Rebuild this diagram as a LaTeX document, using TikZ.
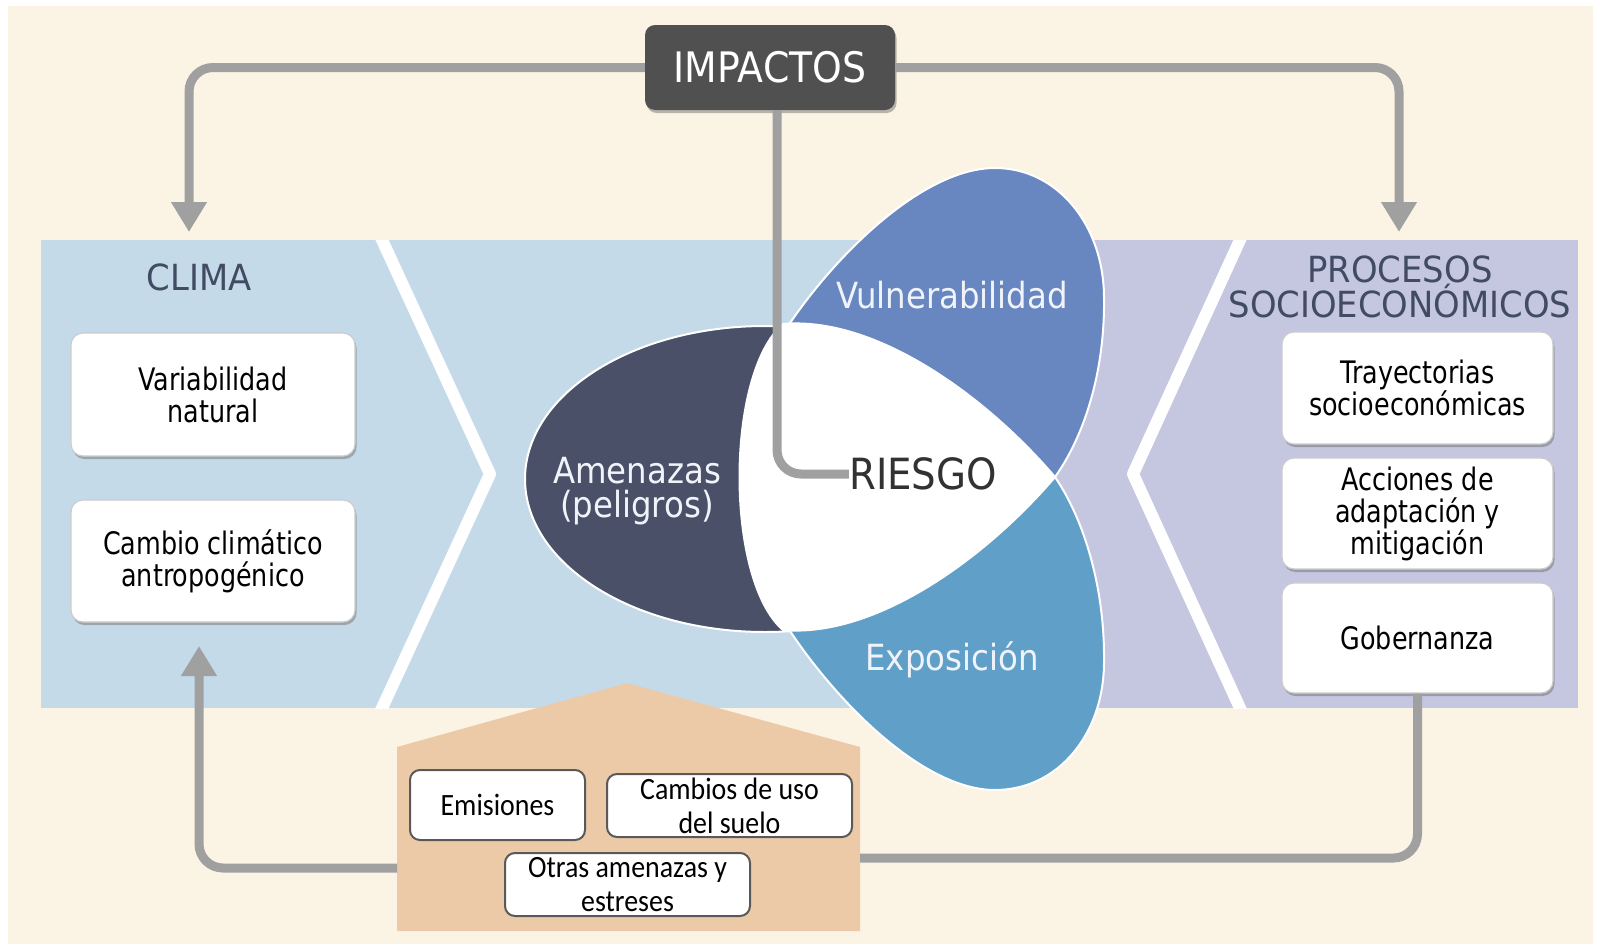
\documentclass[tikz,border=0pt]{standalone}
\usepackage{fontspec}
\newfontfamily\hfont[FakeStretch=0.9]{DejaVu Sans}
\newfontfamily\tfont[FakeStretch=0.94]{DejaVu Sans}
\newfontfamily\bfont[FakeStretch=0.82]{DejaVu Sans}
\newfontfamily\cfont[FakeStretch=0.9]{Carlito}
\usetikzlibrary{arrows.meta,shadows}
\definecolor{cream}{RGB}{251,244,228}
\definecolor{bandblue}{RGB}{197,218,233}
\definecolor{bandlav}{RGB}{197,199,225}
\definecolor{housec}{RGB}{236,202,168}
\definecolor{connG}{RGB}{160,160,160}
\definecolor{impG}{RGB}{80,80,80}
\definecolor{amenC}{RGB}{74,80,104}
\definecolor{vulnC}{RGB}{104,135,192}
\definecolor{expoC}{RGB}{96,160,200}
\definecolor{titleC}{RGB}{65,75,100}
\definecolor{petalT}{RGB}{240,244,250}
\definecolor{riesgoC}{RGB}{50,50,50}
\tikzset{
  sidebox/.style={fill=white, draw=black!20, line width=1.2pt, rounded corners=12pt,
    align=center, inner sep=0pt, text=black,
    font=\bfont\fontsize{31}{32}\selectfont,
    drop shadow={shadow xshift=1.5pt, shadow yshift=-3pt, fill=black!60, opacity=0.45}},
  lowbox/.style={fill=white, draw=black!65, line width=2pt, rounded corners=10pt,
    align=center, inner sep=0pt, text=black,
    font=\cfont\fontsize{31}{34}\selectfont},
  conn/.style={draw=connG, line width=9pt, rounded corners=24pt},
  arr/.style={-{Triangle[length=30pt,width=34pt]}},
  petaltext/.style={text=petalT, inner sep=0pt, font=\hfont\fontsize{36}{36}\selectfont},
  amentext/.style={text=petalT, inner sep=0pt, align=center, font=\hfont\fontsize{36}{34}\selectfont},
  titletext/.style={text=titleC, inner sep=0pt, align=center, font=\tfont\fontsize{36}{35}\selectfont},
  shape outline/.style={draw=white, line width=2pt}
}
\begin{document}
\begin{tikzpicture}[x=1pt,y=-1pt]
\useasboundingbox (0,0) rectangle (1599,948);
\fill[white] (0,0) rectangle (1599,948);
\fill[cream] (8,6) rectangle (1593,944);
% band
\fill[bandblue] (41,240) rectangle (1020,708);
\fill[bandlav] (1020,240) rectangle (1578,708);
\begin{scope}
  \clip (41,240) rectangle (1578,708);
  \draw[white, line width=12pt, line join=round] (377,229) -- (490,474) -- (377,719);
  \draw[white, line width=12pt, line join=round] (1245,229) -- (1133,474) -- (1245,719);
\end{scope}
% petals
\fill[amenC, shape outline] (765,479) ellipse [x radius=240pt, y radius=153pt];
\filldraw[fill=vulnC, shape outline] (1055,477) .. controls (1085,435) and (1105,370) .. (1104,298)
  .. controls (1104,226) and (1058,168) .. (995,168)
  .. controls (925,168) and (840,250) .. (790,323) -- (860,430) -- cycle;
\filldraw[fill=expoC, shape outline] (1055,477) .. controls (1085,521) and (1105,590) .. (1104,662)
  .. controls (1104,734) and (1058,790) .. (995,790)
  .. controls (925,790) and (840,706) .. (790,631) -- (860,526) -- cycle;
\filldraw[fill=white, shape outline] (783,324) .. controls (875,316) and (985,395) .. (1055,477)
  .. controls (985,559) and (875,638) .. (783,630)
  .. controls (725,580) and (725,374) .. (783,324) -- cycle;
% house
\fill[housec] (397,747) -- (627,683) -- (860,747) -- (860,931) -- (397,931) -- cycle;
\coordinate (houseR) at (860,858);
\coordinate (houseL) at (397,868);
% boxes
\node[fill=impG, rounded corners=10pt, minimum width=250pt, minimum height=85pt, inner sep=0pt,
  text=white, font=\hfont\fontsize{42}{44}\selectfont,
  drop shadow={shadow xshift=1.5pt, shadow yshift=-3pt, fill=black!60, opacity=0.45}]
  (imp) at (770,67.5) {IMPACTOS};
\node[sidebox, minimum width=284pt, minimum height=123pt] (var) at (213,394.5) {Variabilidad\\natural};
\node[sidebox, minimum width=284pt, minimum height=122pt] (cc) at (213,561) {Cambio climático\\antropogénico};
\node[sidebox, minimum width=271pt, minimum height=112pt] (tray) at (1417.5,388) {Trayectorias\\socioeconómicas};
\node[sidebox, minimum width=271pt, minimum height=111pt] (acc) at (1417.5,513.5) {Acciones de\\adaptación y\\mitigación};
\node[sidebox, minimum width=271pt, minimum height=110pt] (gob) at (1417.5,638) {Gobernanza};
\node[lowbox, minimum width=175pt, minimum height=70pt] (emi) at (497.5,805) {Emisiones};
\node[lowbox, minimum width=245pt, minimum height=63pt] (uso) at (729.5,805.5) {Cambios de uso\\del suelo};
\node[lowbox, minimum width=245pt, minimum height=63pt] (otras) at (627.5,884.5) {Otras amenazas y\\estreses};
% labels
\node[petaltext] (vul) at (952,295) {Vulnerabilidad};
\node[petaltext] (expo) at (952,660) {Exposición};
\node[amentext] (amz) at (637,491) {Amenazas\\(peligros)};
\node[text=riesgoC, inner sep=0pt, font=\hfont\fontsize{43}{44}\selectfont] (riesgo) at (923,474) {RIESGO};
\node[titletext] (clima) at (199,277) {CLIMA};
\node[titletext] (proc) at (1400,287) {PROCESOS\\SOCIOECONÓMICOS};
% connectors
\coordinate (climaIn) at (189,232);
\coordinate (procIn) at (1399,232);
\coordinate (ccIn) at (199,646);
\draw[conn, arr] (imp.west) -| (climaIn);
\draw[conn, arr] (imp.east) -| (procIn);
\draw[conn] ([xshift=7pt]imp.south) |- (riesgo.west);
\draw[conn] (gob.south) |- (houseR);
\draw[conn, arr] (houseL) -| (ccIn);
\end{tikzpicture}
\end{document}
